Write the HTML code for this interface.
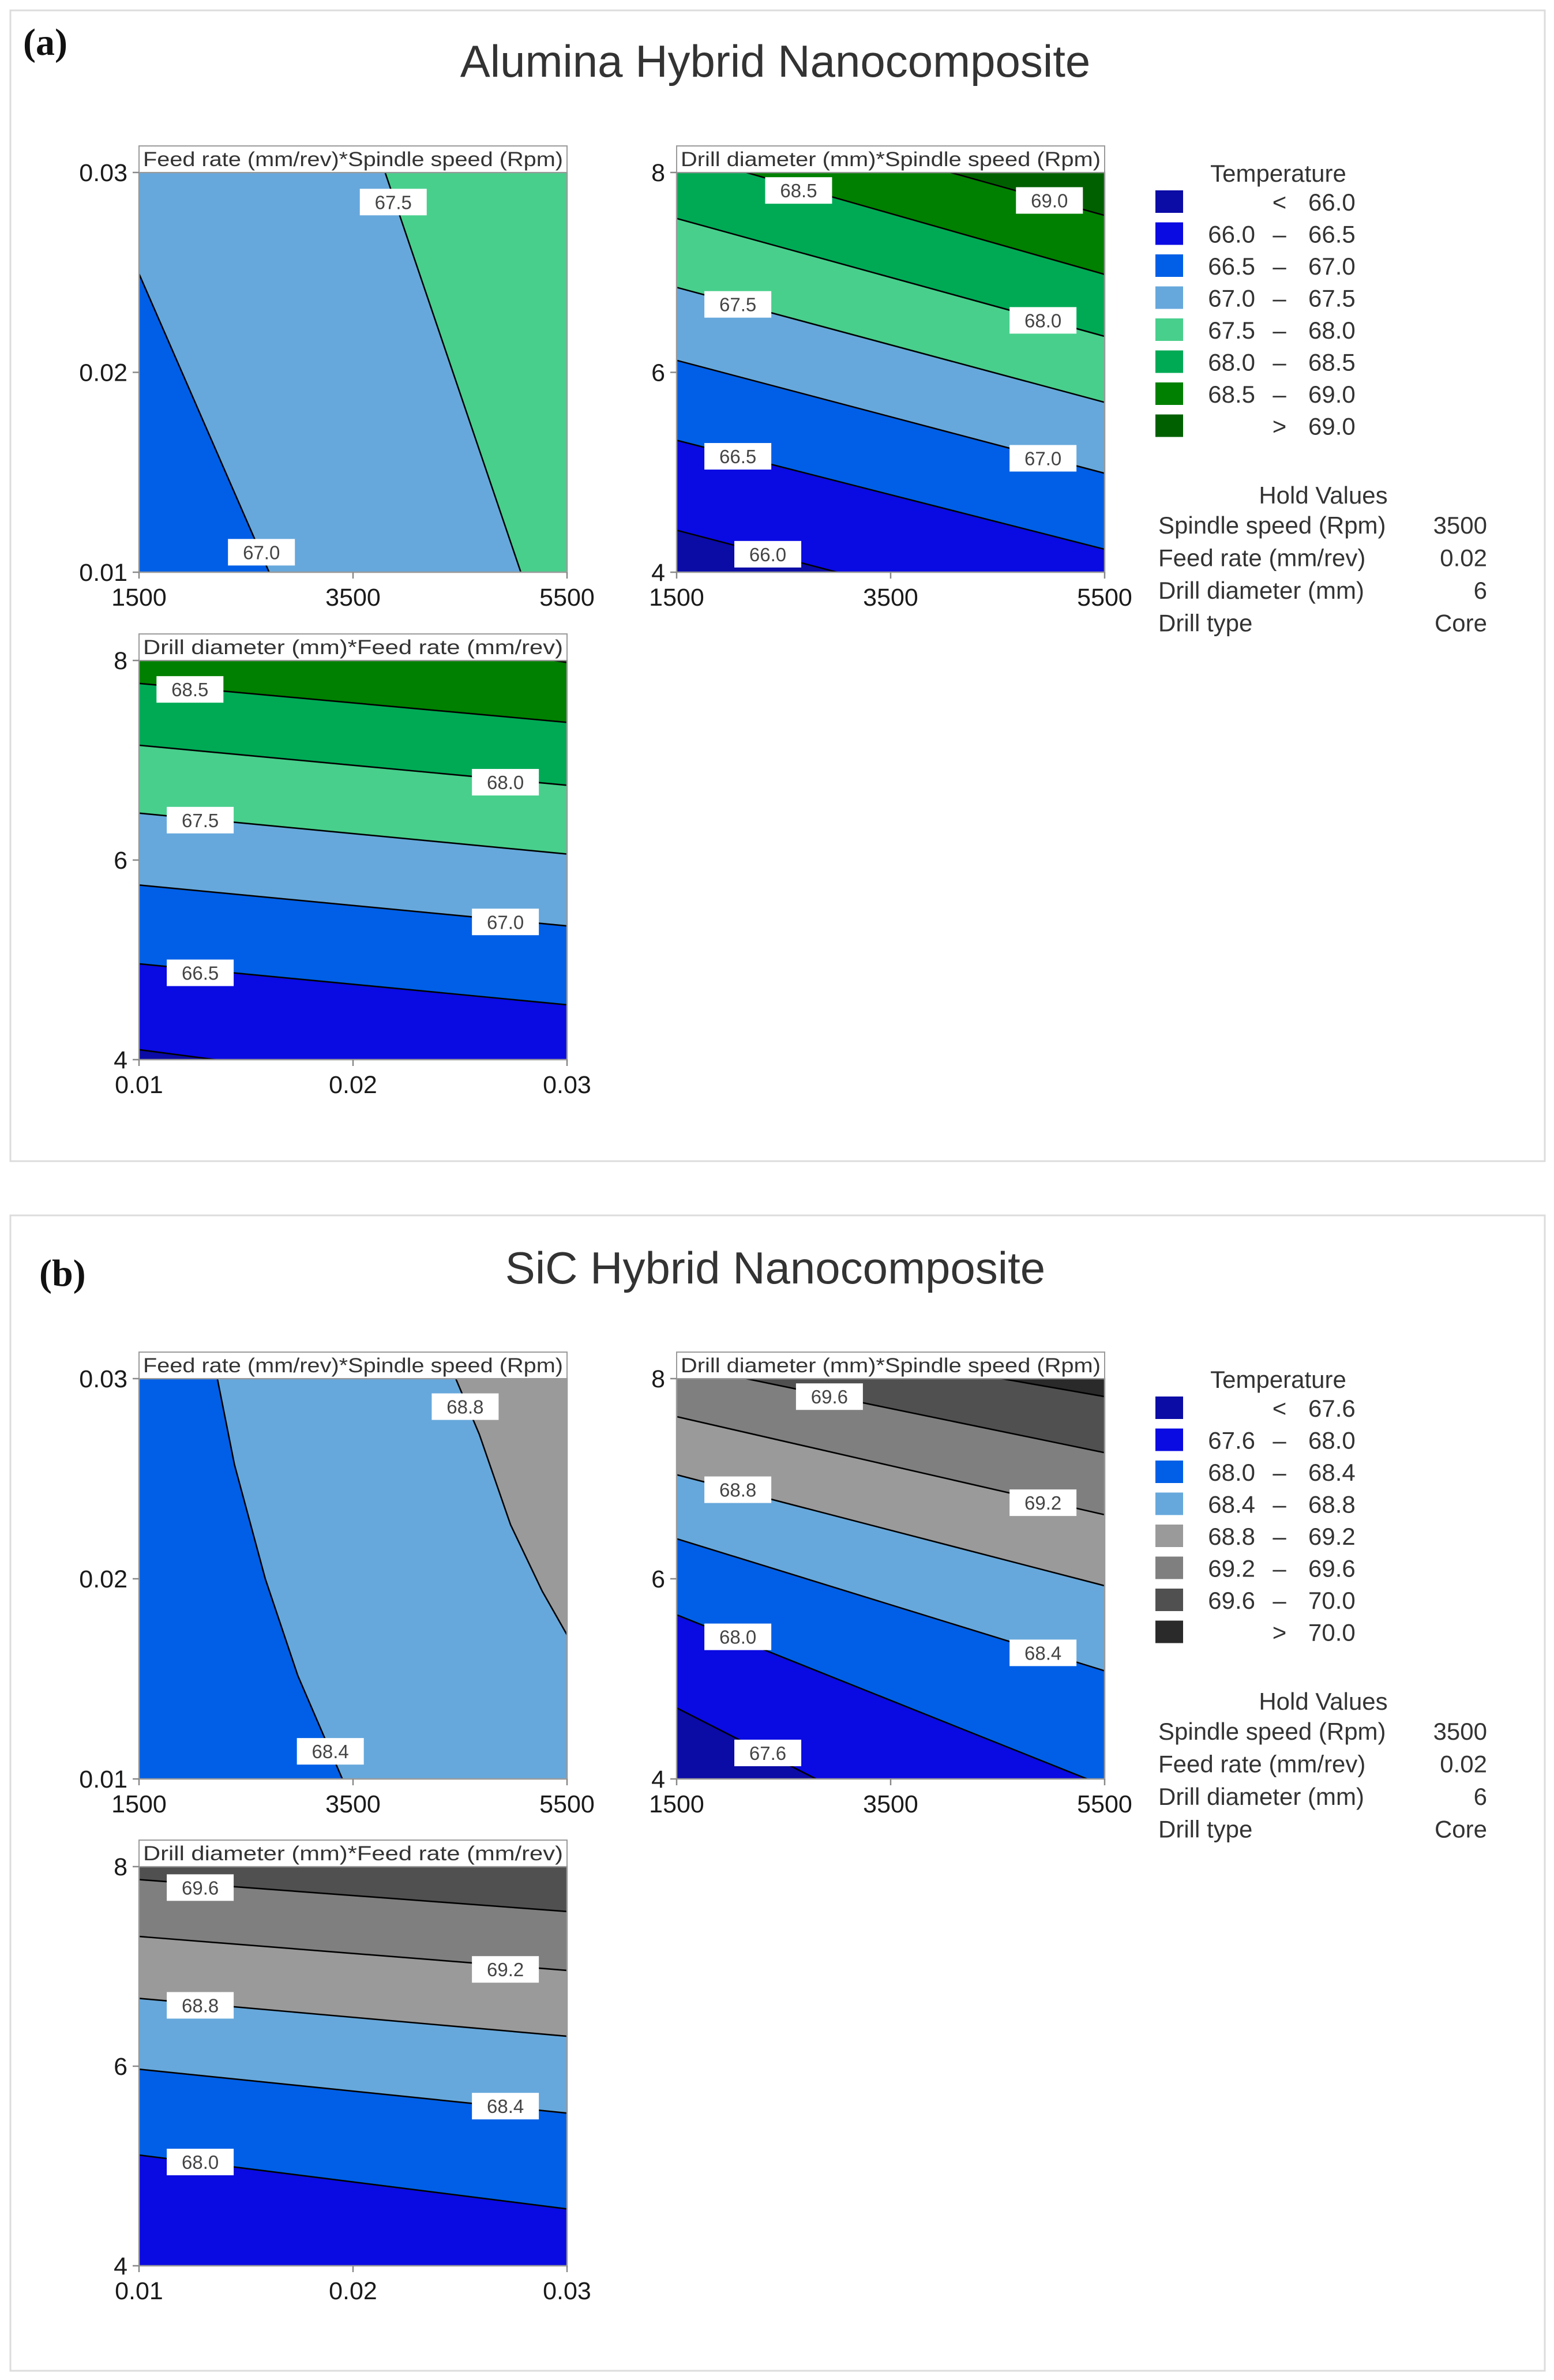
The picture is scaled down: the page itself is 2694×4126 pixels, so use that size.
<!DOCTYPE html>
<html><head><meta charset="utf-8"><style>
html,body{margin:0;padding:0;background:#fff;}
svg{display:block;font-family:"Liberation Sans",sans-serif;}
</style></head><body>
<svg id="chart" width="2694" height="4126" viewBox="0 0 2694 4126" xmlns="http://www.w3.org/2000/svg">
<rect x="0" y="0" width="2694" height="4126" fill="#fff"/>
<rect x="18" y="18" width="2660" height="1995" fill="none" stroke="#dcdcdc" stroke-width="3"/>
<rect x="18" y="2107" width="2660" height="2003" fill="none" stroke="#dcdcdc" stroke-width="3"/>
<text x="40" y="95" font-family="Liberation Serif,serif" font-size="66" font-weight="bold" fill="#111">(a)</text>
<text x="1344" y="133" text-anchor="middle" font-size="78" fill="#333">Alumina Hybrid Nanocomposite</text>
<text x="68" y="2229" font-family="Liberation Serif,serif" font-size="66" font-weight="bold" fill="#111">(b)</text>
<text x="1344" y="2225" text-anchor="middle" font-size="78" fill="#333">SiC Hybrid Nanocomposite</text>
<g id="plots"></g>
</svg>
<script>
// ---- legend data ----
const aPalLevels=[66.0,66.5,67.0,67.5,68.0,68.5,69.0];
const aPalColors=['#0b0ba6','#0a0ae2','#005fe6','#66a8dc','#48cf8c','#00aa55','#008000','#006000'];
const bPalLevels=[67.6,68.0,68.4,68.8,69.2,69.6,70.0];
const bPalColors=['#0b0ba6','#0a0ae2','#005fe6','#66a8dc','#9a9a9a','#7f7f7f','#505050','#2a2a2a'];
const holdNames=['Spindle speed (Rpm)','Feed rate (mm/rev)','Drill diameter (mm)','Drill type'];
const holdVals=['3500','0.02','6','Core'];
const spindleTicks=[1500,3500,5500];
const feedTicks=[0.01,0.02,0.03];
const drillTicks=[4,6,8];
const spindleTickLabels=['1500','3500','5500'];
const feedTickLabels=['0.01','0.02','0.03'];
const drillTickLabels=['4','6','8'];

// ---- panel a ----
const a1Levels=[67.0,67.5];
const a1Contours=[[[1500,0.02493],[2716,0.01]],[[3800,0.03],[5068,0.01]]];
const a1Closures=[['br','tr','tl'],['br','tr']];
const a1LabelText=['67.5','67.0'];
const a1LabelPos=[[3876,0.02852],[2644,0.011]];

const a2Levels=[66.0,66.5,67.0,67.5,68.0,68.5,69.0];
const a2Contours=[[[1500,4.42],[3000,4.0]],[[1500,5.32],[5500,4.23]],[[1500,6.12],[5500,4.99]],[[1500,6.85],[5500,5.70]],[[1500,7.54],[5500,6.36]],[[2150,8],[5500,6.98]],[[4060,8],[5500,7.57]]];
const a2Closures=[['br','tr','tl'],['tr','tl'],['tr','tl'],['tr','tl'],['tr','tl'],['tr'],['tr']];
const a2LabelText=['68.5','69.0','67.5','68.0','66.5','67.0','66.0'];
const a2LabelPos=[[2640,7.82],[4984,7.72],[2072,6.68],[4924,6.52],[2072,5.16],[4924,5.14],[2352,4.18]];

const a3Levels=[66.0,66.5,67.0,67.5,68.0,68.5,69.0];
const a3Contours=[[[0.01,4.10],[0.01356,4]],[[0.01,4.96],[0.03,4.55]],[[0.01,5.75],[0.03,5.34]],[[0.01,6.47],[0.03,6.06]],[[0.01,7.15],[0.03,6.75]],[[0.01,7.77],[0.03,7.38]],[[0.0294,8],[0.03,7.98]]];
const a3Closures=[['br','tr','tl'],['tr','tl'],['tr','tl'],['tr','tl'],['tr','tl'],['tr','tl'],['tr']];
const a3LabelText=['68.5','68.0','67.5','67.0','66.5'];
const a3LabelPos=[[0.01238,7.71],[0.02712,6.78],[0.01286,6.40],[0.02712,5.38],[0.01286,4.87]];

// ---- panel b ----
const b1Levels=[68.4,68.8];
const b1Contours=[[[2232,0.03],[2392,0.0257],[2680,0.02],[2984,0.01516],[3400,0.01]],[[4460,0.03],[4680,0.02722],[4972,0.0227],[5268,0.01938],[5500,0.0172]]];
const b1Closures=[['br','tr'],['tr']];
const b1LabelText=['68.8','68.4'];
const b1LabelPos=[[4548,0.0286],[3288,0.01138]];

const b2Levels=[67.6,68.0,68.4,68.8,69.2,69.6,70.0];
const b2Contours=[[[1500,4.71],[2804,4]],[[1500,5.64],[5336,4]],[[1500,6.40],[5500,5.08]],[[1500,7.04],[5500,5.93]],[[1500,7.62],[5500,6.64]],[[2148,8],[5500,7.26]],[[4536,8],[5500,7.82]]];
const b2Closures=[['br','tr','tl'],['br','tr','tl'],['tr','tl'],['tr','tl'],['tr','tl'],['tr'],['tr']];
const b2LabelText=['69.6','69.2','68.8','68.0','68.4','67.6'];
const b2LabelPos=[[2928,7.82],[4924,6.76],[2072,6.89],[2072,5.42],[4924,5.26],[2352,4.26]];

const b3Levels=[68.0,68.4,68.8,69.2,69.6];
const b3Contours=[[[0.01,5.11],[0.03,4.57]],[[0.01,5.97],[0.03,5.53]],[[0.01,6.68],[0.03,6.30]],[[0.01,7.30],[0.03,6.96]],[[0.01,7.87],[0.03,7.55]]];
const b3Closures=[['tr','tl'],['tr','tl'],['tr','tl'],['tr','tl'],['tr','tl']];
const b3LabelText=['69.6','69.2','68.8','68.4','68.0'];
const b3LabelPos=[[0.01286,7.79],[0.02712,6.97],[0.01286,6.61],[0.02712,5.60],[0.01286,5.04]];

const NS='http://www.w3.org/2000/svg';
const root=document.getElementById('plots');
function mk(tag,attrs,parent){const e=document.createElementNS(NS,tag);for(const k in attrs)e.setAttribute(k,attrs[k]);(parent||root).appendChild(e);return e;}

function drawPlot(id,x0,y0,w,h,xd,yd,xt,xtl,yt,ytl,title,levels,contours,closures,palLevels,palColors,labText,labPos){
  const g=mk('g',{});
  
  
  const sx=v=>x0+(v-xd[0])/(xd[1]-xd[0])*w;
  const sy=v=>y0+h-(v-yd[0])/(yd[1]-yd[0])*h;
  const corner={tl:[xd[0],yd[1]],tr:[xd[1],yd[1]],bl:[xd[0],yd[0]],br:[xd[1],yd[0]]};
  const cp=mk('clipPath',{id:'clip-'+id},g);
  mk('rect',{x:x0,y:y0,width:w,height:h},cp);
  const body=mk('g',{'clip-path':'url(#clip-'+id+')'},g);
  const base=mk('rect',{x:x0,y:y0,width:w,height:h,fill:palColors[palLevels.indexOf(levels[0])]},body);
  
  
  contours.forEach((c,i)=>{
    const pts=c.concat(closures[i].map(k=>corner[k]));
    const p=mk('polygon',{points:pts.map(q=>sx(q[0]).toFixed(1)+','+sy(q[1]).toFixed(1)).join(' '),fill:palColors[palLevels.indexOf(levels[i])+1]},body);
    
    
  });
  contours.forEach((c,i)=>{
    const l=mk('polyline',{points:c.map(q=>sx(q[0]).toFixed(1)+','+sy(q[1]).toFixed(1)).join(' '),fill:'none',stroke:'#000','stroke-width':2.6},body);
    
    
  });
  labText.forEach((t,i)=>{
    const cx=sx(labPos[i][0]),cy=sy(labPos[i][1]);
    const lg=mk('g',{},body);
    
    
    mk('rect',{x:cx-58,y:cy-23,width:116,height:46,fill:'#fff'},lg);
    const tx=mk('text',{x:cx,y:cy+12,'text-anchor':'middle','font-size':33,fill:'#444'},lg);
    tx.textContent=t;
  });
  const fr=mk('rect',{x:x0,y:y0,width:w,height:h,fill:'none',stroke:'#9a9a9a','stroke-width':2.5},g);
  
  
  const tb=mk('rect',{x:x0,y:y0-46,width:w,height:46,fill:'#fff',stroke:'#9a9a9a','stroke-width':2},g);
  
  
  const tt=mk('text',{x:x0+w/2,y:y0-11,'text-anchor':'middle','font-size':35,fill:'#333',textLength:w-14,lengthAdjust:'spacingAndGlyphs'},g);
  tt.textContent=title;
  
  
  xt.forEach((v,i)=>{
    mk('line',{x1:sx(v),x2:sx(v),y1:y0+h,y2:y0+h+11,stroke:'#888','stroke-width':2.5},g);
    const t=mk('text',{x:sx(v),y:y0+h+58,'text-anchor':'middle','font-size':43,fill:'#1a1a1a'},g);
    t.textContent=xtl[i];
    
    
  });
  yt.forEach((v,i)=>{
    mk('line',{x1:x0-11,x2:x0,y1:sy(v),y2:sy(v),stroke:'#888','stroke-width':2.5},g);
    const t=mk('text',{x:x0-20,y:sy(v)+15,'text-anchor':'end','font-size':43,fill:'#1a1a1a'},g);
    t.textContent=ytl[i];
    
    
  });
}

function drawLegend(id,dy,palLevels,palColors){
  const g=mk('g',{});
  
  
  const t=mk('text',{x:2216,y:315+dy,'text-anchor':'middle','font-size':42,fill:'#333'},g);
  t.textContent='Temperature';
  palColors.forEach((c,i)=>{
    const cy=350+dy+i*55.5;
    const sw=mk('rect',{x:2003,y:cy-20,width:48,height:39,fill:c},g);
    
    
    let left='',mid='',right='';
    if(i===0){mid='<';right=palLevels[0].toFixed(1);}
    else if(i===palColors.length-1){mid='>';right=palLevels[i-1].toFixed(1);}
    else{left=palLevels[i-1].toFixed(1);mid='–';right=palLevels[i].toFixed(1);}
    const a=mk('text',{x:2176,y:cy+15,'text-anchor':'end','font-size':42,fill:'#333'},g);a.textContent=left;
    const b=mk('text',{x:2218,y:cy+15,'text-anchor':'middle','font-size':42,fill:'#333'},g);b.textContent=mid;
    const r=mk('text',{x:2268,y:cy+15,'font-size':42,fill:'#333'},g);r.textContent=right;
  });
  const h=mk('text',{x:2294,y:873+dy,'text-anchor':'middle','font-size':42,fill:'#333'},g);
  h.textContent='Hold Values';
  holdNames.forEach((n,i)=>{
    const y=925+dy+i*56.5;
    const a=mk('text',{x:2008,y:y,'font-size':42,fill:'#333'},g);a.textContent=n;
    const b=mk('text',{x:2578,y:y,'text-anchor':'end','font-size':42,fill:'#333'},g);b.textContent=holdVals[i];
  });
}

const C1=[241,742],C2=[1173,742];
const D=2091;
drawPlot('a1',C1[0],299,C1[1],693,[1500,5500],[0.01,0.03],spindleTicks,spindleTickLabels,feedTicks,feedTickLabels,'Feed rate (mm/rev)*Spindle speed (Rpm)',a1Levels,a1Contours,a1Closures,aPalLevels,aPalColors,a1LabelText,a1LabelPos);
drawPlot('a2',C2[0],299,C2[1],693,[1500,5500],[4,8],spindleTicks,spindleTickLabels,drillTicks,drillTickLabels,'Drill diameter (mm)*Spindle speed (Rpm)',a2Levels,a2Contours,a2Closures,aPalLevels,aPalColors,a2LabelText,a2LabelPos);
drawPlot('a3',C1[0],1145,C1[1],692,[0.01,0.03],[4,8],feedTicks,feedTickLabels,drillTicks,drillTickLabels,'Drill diameter (mm)*Feed rate (mm/rev)',a3Levels,a3Contours,a3Closures,aPalLevels,aPalColors,a3LabelText,a3LabelPos);
drawPlot('b1',C1[0],299+D,C1[1],694,[1500,5500],[0.01,0.03],spindleTicks,spindleTickLabels,feedTicks,feedTickLabels,'Feed rate (mm/rev)*Spindle speed (Rpm)',b1Levels,b1Contours,b1Closures,bPalLevels,bPalColors,b1LabelText,b1LabelPos);
drawPlot('b2',C2[0],299+D,C2[1],694,[1500,5500],[4,8],spindleTicks,spindleTickLabels,drillTicks,drillTickLabels,'Drill diameter (mm)*Spindle speed (Rpm)',b2Levels,b2Contours,b2Closures,bPalLevels,bPalColors,b2LabelText,b2LabelPos);
drawPlot('b3',C1[0],1145+D,C1[1],692,[0.01,0.03],[4,8],feedTicks,feedTickLabels,drillTicks,drillTickLabels,'Drill diameter (mm)*Feed rate (mm/rev)',b3Levels,b3Contours,b3Closures,bPalLevels,bPalColors,b3LabelText,b3LabelPos);
drawLegend('a',0,aPalLevels,aPalColors);
drawLegend('b',D,bPalLevels,bPalColors);
</script>
</body></html>
